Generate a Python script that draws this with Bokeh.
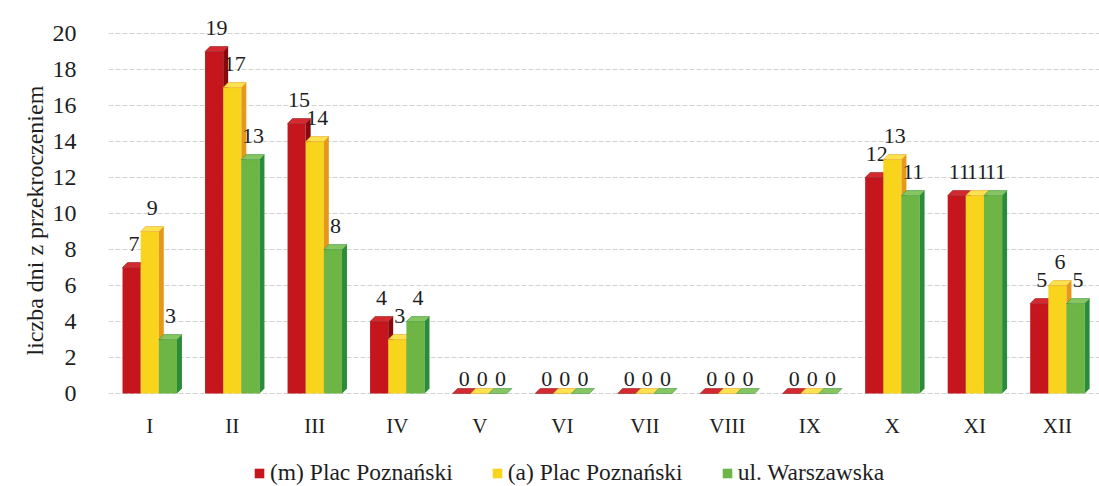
from bokeh.plotting import figure
from bokeh.models import Range1d, FixedTicker, Legend, LegendItem, Title
from bokeh.embed import file_html
from bokeh.resources import INLINE
from bokeh.core.properties import value

# ---- data ----
months = ["I", "II", "III", "IV", "V", "VI", "VII", "VIII", "IX", "X", "XI", "XII"]
series_names = ["(m) Plac Poznański", "(a) Plac Poznański", "ul. Warszawska"]
m_plac = [7, 19, 15, 4, 0, 0, 0, 0, 0, 12, 11, 5]
a_plac = [9, 17, 14, 3, 0, 0, 0, 0, 0, 13, 11, 6]
warszawska = [3, 13, 8, 4, 0, 0, 0, 0, 0, 11, 11, 5]
y_ticks = [0, 2, 4, 6, 8, 10, 12, 14, 16, 18, 20]
y_title = "liczba dni z przekroczeniem"

series_values = [m_plac, a_plac, warszawska]
front_colors = ["#c4161c", "#f8d41c", "#6db544"]
side_colors = ["#86090e", "#e6981a", "#2a8c38"]
top_colors = ["#d42a2f", "#fbe24e", "#86c560"]

FONT = "Times New Roman"
TXT = "#1e1e1e"
W = 0.22      # bar width (category units)
DX = 0.06     # 3D depth in x
DY = 0.28     # 3D depth in y
offsets = [-0.22, 0.0, 0.22]
Y_TOP = 21.17
Y_BOTTOM = Y_TOP - 474 / 18.0
MONTH_Y = -1.78

p = figure(width=1099, height=486, output_backend="svg", toolbar_location=None,
           x_range=Range1d(0.5, 12.51), y_range=Range1d(Y_BOTTOM, Y_TOP),
           min_border_left=108, min_border_right=0, min_border_top=12, min_border_bottom=0,
           x_axis_location=None)
p.outline_line_color = None
p.background_fill_color = "white"
p.border_fill_color = "white"

p.xgrid.grid_line_color = None
p.ygrid.ticker = FixedTicker(ticks=y_ticks)
p.ygrid.grid_line_color = "#d2d2d2"
p.ygrid.grid_line_dash = "5 2"

p.yaxis.ticker = FixedTicker(ticks=y_ticks)
p.yaxis.axis_line_color = None
p.yaxis.major_tick_line_color = None
p.yaxis.minor_tick_line_color = None
p.yaxis.major_label_standoff = 26
p.yaxis.major_label_text_font = FONT
p.yaxis.major_label_text_font_size = "24px"
p.yaxis.major_label_text_color = TXT

p.add_layout(Title(text=y_title, align="left", offset=131, standoff=4,
                   text_font=FONT, text_font_size="24px", text_font_style="normal",
                   text_color=TXT), "left")

xt = list(range(1, len(months) + 1))
# month labels (category axis)
p.text(x=xt, y=[MONTH_Y] * len(xt), text=months, text_align="center", text_baseline="middle",
       text_font=value(FONT), text_font_size="21px", text_color=TXT)

front_renderers = []
for s, vals in enumerate(series_values):
    xc = [i + offsets[s] for i in xt]
    r = p.vbar(x=xc, top=vals, bottom=0, width=W, fill_color=front_colors[s], line_color=None)
    front_renderers.append(r)
    side_xs, side_ys, top_xs, top_ys = [], [], [], []
    for x, v in zip(xc, vals):
        xr = x + W / 2
        xl = x - W / 2
        side_xs.append([xr, xr, xr + DX, xr + DX])
        side_ys.append([0, v, v + DY, DY])
        top_xs.append([xl, xr, xr + DX, xl + DX])
        top_ys.append([v, v, v + DY, v + DY])
    p.patches(xs=side_xs, ys=side_ys, fill_color=side_colors[s], line_color=None)
    p.patches(xs=top_xs, ys=top_ys, fill_color=top_colors[s], line_color=side_colors[s], line_width=0.5)
    ly = [v + (0.9 if v > 0 else 0.4) for v in vals]
    p.text(x=[x + DX / 2 for x in xc], y=ly, text=[str(v) for v in vals],
           text_align="center", text_baseline="bottom",
           text_font=value(FONT), text_font_size="22px", text_color=TXT)

legend = Legend(items=[LegendItem(label=n, renderers=[r]) for n, r in zip(series_names, front_renderers)],
                orientation="horizontal", location=(145, 0),
                label_text_font=FONT, label_text_font_size="23.5px", label_text_color=TXT,
                label_height=18, glyph_width=12, glyph_height=12, label_standoff=5, spacing=38,
                padding=0, margin=0, border_line_alpha=0, background_fill_alpha=0)
p.add_layout(legend, "center")

open("out.html", "w").write(file_html(p, INLINE))
